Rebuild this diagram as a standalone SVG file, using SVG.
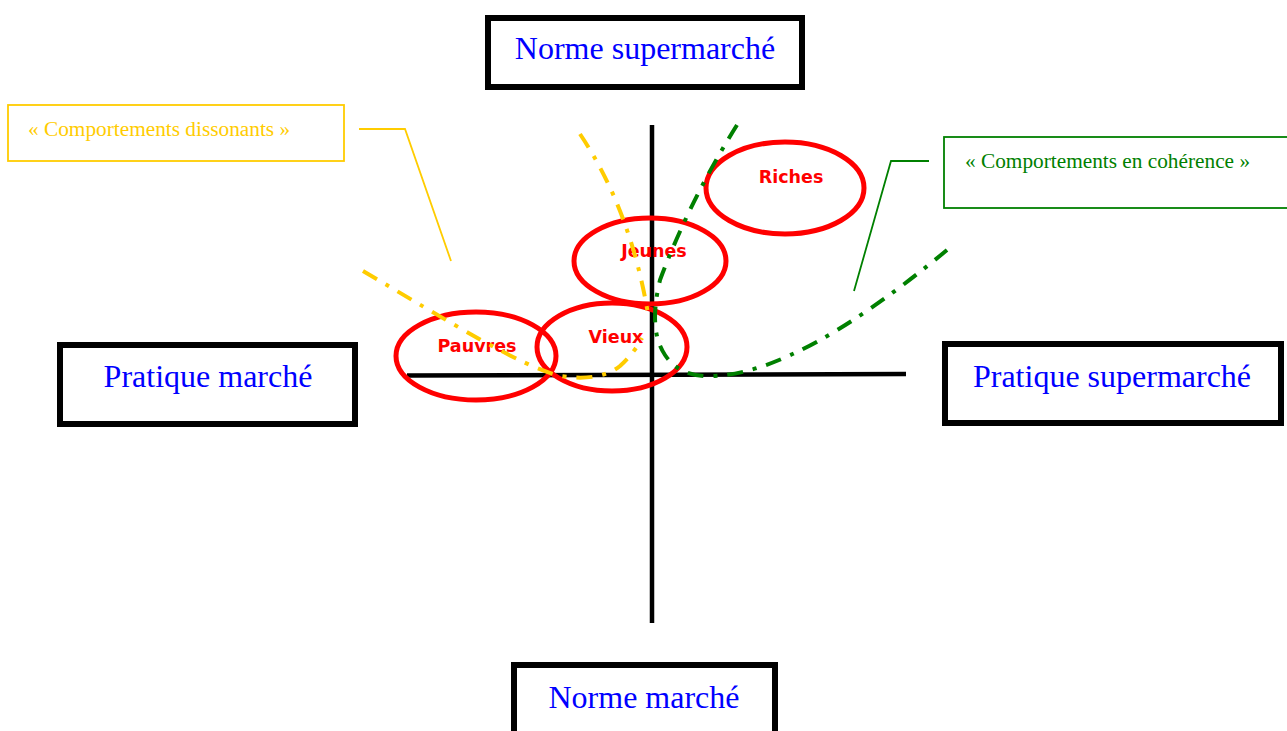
<svg xmlns="http://www.w3.org/2000/svg" width="1287" height="731" viewBox="0 0 1287 731">
<style>
.box{fill:#fff;stroke:#000;stroke-width:6}
.big{font-family:"Liberation Serif","Times New Roman",serif;font-size:32px;fill:#0000ff;text-anchor:middle}
.ell{fill:none;stroke:#ff0000;stroke-width:5}
.lab{font-family:"DejaVu Sans",Verdana,sans-serif;font-weight:bold;font-size:17.5px;fill:#ff0000;text-anchor:middle}
.ax{stroke:#000;stroke-width:4.5;fill:none}
.ydd{fill:none;stroke:#ffcc00;stroke-width:4;stroke-dasharray:16,10,4,10}
.gdd{fill:none;stroke:#008000;stroke-width:4;stroke-dasharray:16,10,4,10}
.small{font-family:"Liberation Serif","Times New Roman",serif;font-size:21.3px}
</style>
<rect width="1287" height="731" fill="#fff"/>
<g id="axes">
<line class="ax" x1="652" y1="125" x2="652" y2="623"/>
<line class="ax" x1="407" y1="375.5" x2="906" y2="374"/>
</g>
<g id="norme-supermarche"><rect class="box" x="488" y="18" width="314" height="69"/><text class="big" x="645" y="59">Norme supermarché</text></g>
<g id="pratique-marche"><rect class="box" x="60" y="345" width="295" height="79"/><text class="big" x="208" y="387">Pratique marché</text></g>
<g id="pratique-supermarche"><rect class="box" x="945" y="344" width="336" height="79"/><text class="big" x="1112" y="387">Pratique supermarché</text></g>
<g id="norme-marche"><rect class="box" x="514" y="665" width="261" height="100"/><text class="big" x="644" y="708">Norme marché</text></g>
<g id="pauvres"><ellipse class="ell" cx="476" cy="356" rx="80" ry="44"/><text class="lab" x="477" y="352">Pauvres</text></g>
<g id="vieux"><ellipse class="ell" cx="612" cy="347" rx="75" ry="44"/><text class="lab" x="616" y="343">Vieux</text></g>
<g id="jeunes"><ellipse class="ell" cx="650" cy="261" rx="76" ry="43"/><text class="lab" x="654" y="257">Jeunes</text></g>
<g id="riches"><ellipse class="ell" cx="785" cy="188" rx="79" ry="46"/><text class="lab" x="791" y="183">Riches</text></g>
<g id="connectors">
<path class="ydd" d="M363,271 C450,322 520,366 560,376 Q600,382 620,366 Q635,352 642,338"/>
<path class="ydd" d="M580,134 Q632,212 649,320"/>
<path class="gdd" d="M737,125 Q690,200 660,280 Q648,330 665,355 Q680,378 715,376 Q800,372 947,250"/>
<polyline points="359,129 405,129 451,261" fill="none" stroke="#ffcc00" stroke-width="1.8"/>
<polyline points="929,161 891,161 854,291" fill="none" stroke="#008000" stroke-width="1.8"/>
</g>
<g id="callout-dissonants"><rect x="8" y="105" width="336" height="56" fill="none" stroke="#ffcc00" stroke-width="1.8"/><text class="small" x="28" y="136" fill="#ffcc00">« Comportements dissonants »</text></g>
<g id="callout-coherence"><rect x="944" y="137" width="360" height="71" fill="none" stroke="#008000" stroke-width="1.8"/><text class="small" x="965" y="168" fill="#008000">« Comportements en cohérence »</text></g>
</svg>
